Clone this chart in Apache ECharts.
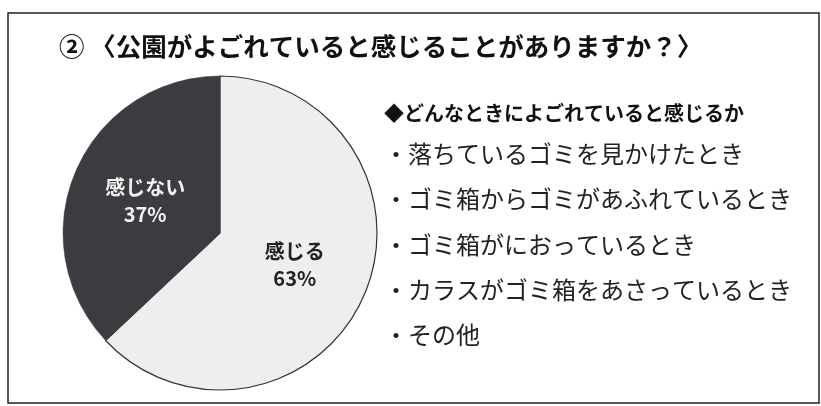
<!DOCTYPE html>
<html><head><meta charset="utf-8">
<script src="https://cdn.jsdelivr.net/npm/echarts@6/dist/echarts.min.js"></script>
<style>html,body{margin:0;padding:0;background:#fff;}#c{width:821px;height:406px;}</style>
</head><body><div id="c"></div>
<script>
const titleText = '② 〈公園がよごれていると感じることがありますか？〉';
const categories = ['感じる', '感じない'];
const values = [63, 37];
const subHeading = '◆どんなときによごれていると感じるか';
const reasons = ['落ちているゴミを見かけたとき', 'ゴミ箱からゴミがあふれているとき', 'ゴミ箱がにおっているとき', 'カラスがゴミ箱をあさっているとき', 'その他'];

const font = '"Noto Sans CJK JP", "Noto Sans", sans-serif';
const chart = echarts.init(document.getElementById('c'));
const reasonY = [156, 201, 247, 292, 337];
const graphics = [
  {type:'rect', shape:{x:8, y:13, width:811, height:390}, style:{fill:'none', stroke:'#222', lineWidth:1.5}, z:0},
  {type:'text', left:384, top:103, style:{text:subHeading, font:'bold 20px ' + font, fill:'#111'}}
];
reasons.forEach((r, i) => {
  graphics.push({type:'text', left:384, top:reasonY[i]-14, style:{text:'・' + r, font:'24px ' + font, fill:'#222'}});
});
chart.setOption({
  animation:false,
  backgroundColor:'#fff',
  title:{text:titleText, left:54, top:29, textStyle:{fontFamily:font, fontSize:25.5, fontWeight:'bold', color:'#111'}},
  graphic:graphics,
  series:[{
    type:'pie', center:[220, 233], radius:157, startAngle:90, clockwise:true,
    label:{position:'inside', fontFamily:font, fontSize:20, fontWeight:'bold', lineHeight:27,
      formatter:p => p.name + '\n' + p.value + '%'},
    labelLine:{show:false},
    data:categories.map((n, i) => ({name:n, value:values[i],
      itemStyle: i === 0 ? {color:'#eeeeee', borderColor:'#333', borderWidth:1.2} : {color:'#3a3c40', borderColor:'#3a3c40', borderWidth:0.5},
      label: i === 0 ? {color:'#222'} : {color:'#f2f2f2'}
    }))
  }]
});
</script></body></html>
